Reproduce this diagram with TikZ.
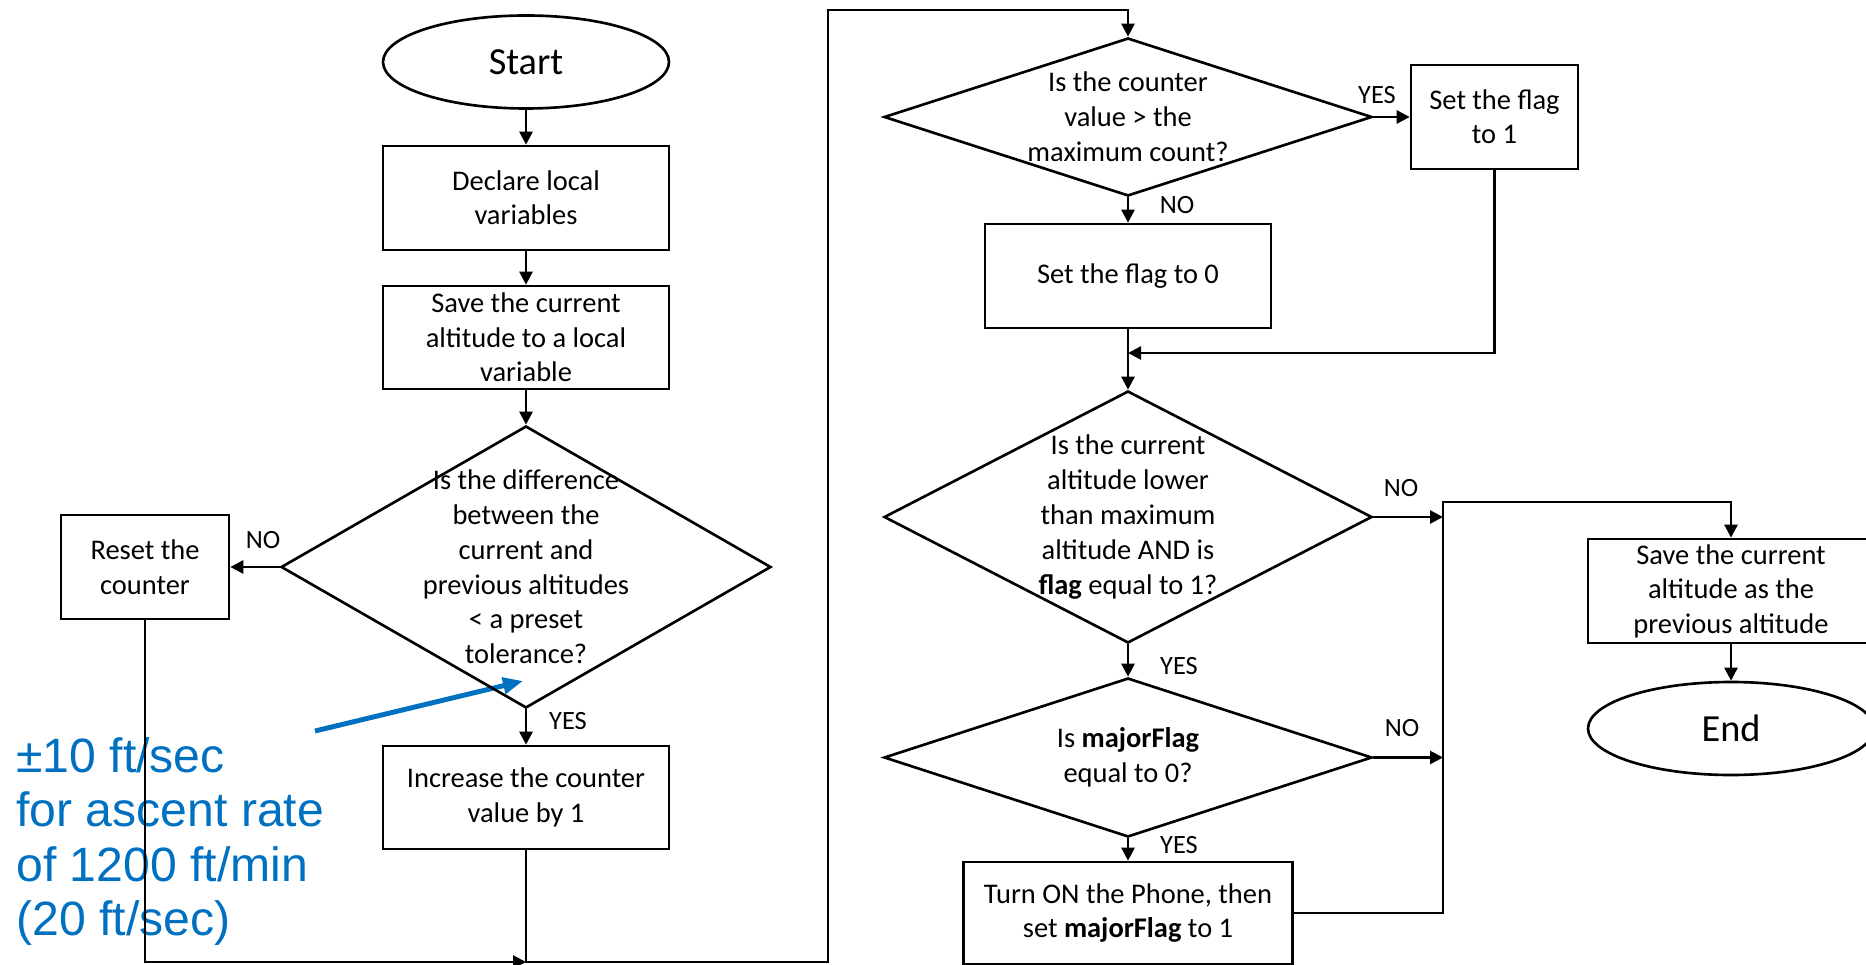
\documentclass[tikz,border=0pt]{standalone}
\usepackage{fontspec}
\setmainfont{Carlito}
\newfontfamily\notefont{Liberation Sans}
\usepackage{tikz}
\usetikzlibrary{arrows.meta,positioning,shapes.geometric,calc}
\definecolor{noteblue}{RGB}{0,112,192}

\begin{document}
\begin{tikzpicture}[
    line width=0.75pt,
    proc/.style={rectangle, draw, minimum width=2.86cm, minimum height=1.04cm,
                 inner sep=0pt, align=center,
                 font=\fontsize{8.1}{9.8}\selectfont},
    term/.style={ellipse, draw, minimum width=2.86cm, minimum height=0.93cm,
                 inner sep=0pt, font=\fontsize{10.9}{12}\selectfont},
    decision/.style={diamond, draw, inner sep=-1cm, align=center,
                 font=\fontsize{8.1}{9.9}\selectfont},
    arr/.style={-{Triangle[length=1.3mm, width=1.3mm]}},
    answer/.style={font=\fontsize{7.5}{9}\selectfont, inner sep=0pt},
    note/.style={font=\notefont\fontsize{13.7}{15.5}\selectfont,
                 text=noteblue, align=left, inner sep=0pt},
    notearr/.style={-{Triangle[length=2mm, width=1.6mm]}, noteblue,
                    line width=1.4pt},
  ]
  \useasboundingbox (0,0) rectangle (18.66,-9.65);

  % --- tolerance note ---
  \node[note, anchor=north west] (tol) at (0.15,-7.36)
    {±10 ft/sec\\for ascent rate\\of 1200 ft/min\\(20 ft/sec)};
  \coordinate (ntail) at (3.15,-7.31);
  \coordinate (nhead) at (5.23,-6.81);
  \draw[notearr] (ntail) -- (nhead);

  % --- Left column: counter update ---
  \node[term] (start) at (5.26,-0.62) {Start};
  \node[proc] (decl) at (5.26,-1.98) {Declare local\\variables};
  \node[proc, minimum height=1.03cm] (savecur) at (5.26,-3.375)
    {Save the current\\altitude to a local\\variable};
  \node[decision, minimum width=4.9cm, minimum height=2.82cm]
    (diff) at (5.26,-5.67)
    {Is the difference\\between the\\current and\\previous altitudes\\< a preset\\tolerance?};
  \node[proc, minimum width=1.68cm] (reset) at (1.45,-5.67) {Reset the\\counter};
  \node[proc, minimum height=1.03cm] (incr) at (5.26,-7.975)
    {Increase the counter\\value by 1};
  \node[answer] (nodiff) at (2.63,-5.40) {NO};
  \node[answer] (yesdiff) at (5.68,-7.21) {YES};

  \draw[arr] (start) -- (decl);
  \draw[arr] (decl) -- (savecur);
  \draw[arr] (savecur) -- (diff);
  \draw[arr] (diff) -- (reset);
  \draw[arr] (diff) -- (incr);

  % --- Right column: flag checks ---
  \node[decision, minimum width=4.88cm, minimum height=1.58cm]
    (cnt) at (11.28,-1.17) {Is the counter\\value > the\\maximum count?};
  \node[proc, minimum width=1.67cm] (flagone) at (14.945,-1.17) {Set the flag\\to 1};
  \node[proc] (flagzero) at (11.28,-2.76) {Set the flag to 0};
  \node[decision, minimum width=4.88cm, minimum height=2.52cm]
    (alt) at (11.28,-5.17)
    {Is the current\\altitude lower\\than maximum\\altitude AND is\\\textbf{flag} equal to 1?};
  \node[decision, minimum width=4.88cm, minimum height=1.59cm]
    (major) at (11.28,-7.575) {Is \textbf{majorFlag}\\equal to 0?};
  \node[proc, minimum width=3.29cm, minimum height=1.02cm] (phone) at (11.28,-9.13)
    {Turn ON the Phone, then\\set \textbf{majorFlag} to 1};
  \node[proc] (prev) at (17.31,-5.91)
    {Save the current\\altitude as the\\previous altitude};
  \node[term] (finish) at (17.31,-7.285) {End};

  \node[answer] (yescnt) at (13.77,-0.95) {YES};
  \node[answer] (nocnt) at (11.77,-2.05) {NO};
  \node[answer] (noalt) at (14.01,-4.88) {NO};
  \node[answer] (yesalt) at (11.79,-6.66) {YES};
  \node[answer] (nomajor) at (14.02,-7.28) {NO};
  \node[answer] (yesmajor) at (11.79,-8.45) {YES};

  % loop back from the left column
  \coordinate (j1) at (5.26,-9.62);
  \coordinate (loop) at (8.28,-0.10);
  \draw[arr] (reset) |- (j1);
  \draw[arr] (incr) -- (j1) -| (loop) -| (cnt);

  \draw[arr] (cnt) -- (flagone);
  \draw[arr] (cnt) -- (flagzero);
  \coordinate (j2) at (11.28,-3.53);
  \draw[arr] (flagone) |- (j2);
  \draw[arr] (flagzero) -- (alt);
  \draw[arr] (alt) -- (major);
  \draw[arr] (major) -- (phone);

  % merge to the end
  \coordinate (mtop) at (14.43,-5.02);
  \coordinate (mbot) at (14.43,-9.13);
  \draw[arr] (alt) -- (alt -| mtop);
  \draw[arr] (major) -- (major -| mtop);
  \draw[arr] (phone) -- (mbot) -- (mtop) -| (prev);
  \draw[arr] (prev) -- (finish);
\end{tikzpicture}
\end{document}
